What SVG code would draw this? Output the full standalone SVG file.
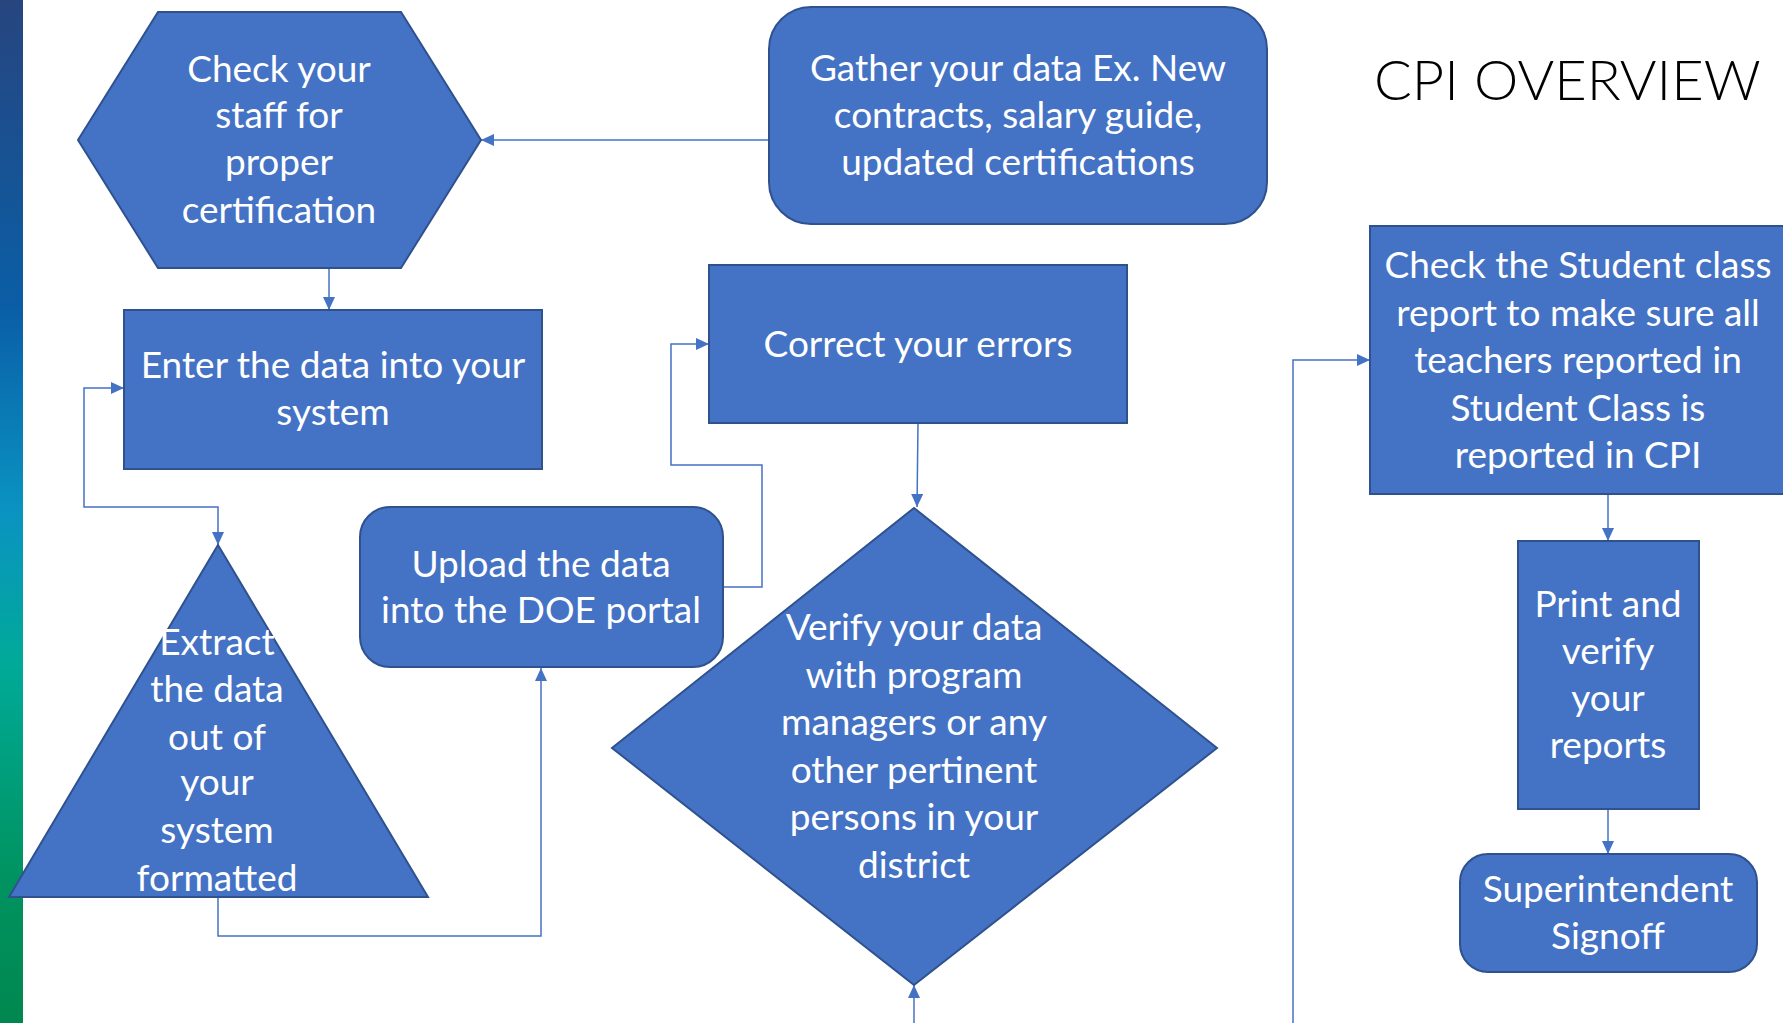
<svg xmlns="http://www.w3.org/2000/svg" width="1783" height="1023" viewBox="0 0 1783 1023">
<style>
.shape{fill:#4472C4;stroke:#2F528F;stroke-width:2}
.t{fill:#ffffff;font-family:Lato,"Noto Sans",sans-serif;font-size:37px;text-anchor:middle}
.c{fill:none;stroke:#4472C4;stroke-width:1.5}
.title{fill:#000000;font-family:Lato,"Noto Sans",sans-serif;font-weight:300;font-size:56px}
</style>
<defs>
<linearGradient id="bar" x1="0" y1="0" x2="0" y2="1">
<stop offset="0" stop-color="#27457f"/>
<stop offset="0.3" stop-color="#0a5ea6"/>
<stop offset="0.5" stop-color="#0a93c2"/>
<stop offset="0.65" stop-color="#00aa98"/>
<stop offset="0.85" stop-color="#009462"/>
<stop offset="1" stop-color="#00874f"/>
</linearGradient>
<marker id="arr" viewBox="0 0 13 12" refX="13" refY="6" markerWidth="13" markerHeight="12" markerUnits="userSpaceOnUse" orient="auto-start-reverse">
<path d="M0,0 L13,6 L0,12 z" fill="#4472C4"/>
</marker>
</defs>
<rect x="0" y="0" width="1783" height="1023" fill="#ffffff"/>
<rect x="0" y="0" width="23" height="1023" fill="url(#bar)"/>
<text class="title" x="1374" y="100">CPI OVERVIEW</text>

<g id="connectors">
<path class="c" d="M769,140 L481,140" marker-end="url(#arr)"/>
<path class="c" d="M329,268 L329,310" marker-end="url(#arr)"/>
<path class="c" d="M218,545 L218,507 L84,507 L84,388 L124,388" marker-start="url(#arr)" marker-end="url(#arr)"/>
<path class="c" d="M218,897 L218,936 L541,936 L541,668" marker-end="url(#arr)"/>
<path class="c" d="M723,587 L762,587 L762,465 L671,465 L671,344 L709,344" marker-end="url(#arr)"/>
<path class="c" d="M918,423 L917,507" marker-end="url(#arr)"/>
<path class="c" d="M914,1023 L914,985" marker-end="url(#arr)"/>
<path class="c" d="M1293,1023 L1293,360 L1370,360" marker-end="url(#arr)"/>
<path class="c" d="M1608,494 L1608,541" marker-end="url(#arr)"/>
<path class="c" d="M1608,809 L1608,854" marker-end="url(#arr)"/>
</g>

<g id="check-staff">
<polygon class="shape" points="158,12 401,12 481,140 401,268 158,268 78,140"/>
<text class="t" x="279" y="82">Check your</text>
<text class="t" x="279" y="128">staff for</text>
<text class="t" x="279" y="175">proper</text>
<text class="t" x="279" y="223">certification</text>
</g>

<g id="gather">
<rect class="shape" x="769" y="7" width="498" height="217" rx="42" ry="42"/>
<text class="t" x="1018" y="81">Gather your data Ex. New</text>
<text class="t" x="1018" y="128">contracts, salary guide,</text>
<text class="t" x="1018" y="175">updated certifications</text>
</g>

<g id="enter">
<rect class="shape" x="124" y="310" width="418" height="159"/>
<text class="t" x="333" y="378">Enter the data into your</text>
<text class="t" x="333" y="425">system</text>
</g>

<g id="extract">
<polygon class="shape" points="218,545 428,897 9,897"/>
<text class="t" x="217" y="655">Extract</text>
<text class="t" x="217" y="702">the data</text>
<text class="t" x="217" y="750">out of</text>
<text class="t" x="217" y="795">your</text>
<text class="t" x="217" y="843">system</text>
<text class="t" x="217" y="891">formatted</text>
</g>

<g id="upload">
<rect class="shape" x="360" y="507" width="363" height="160" rx="30" ry="30"/>
<text class="t" x="541" y="577">Upload the data</text>
<text class="t" x="541" y="623">into the DOE portal</text>
</g>

<g id="correct">
<rect class="shape" x="709" y="265" width="418" height="158"/>
<text class="t" x="918" y="357">Correct your errors</text>
</g>

<g id="verify">
<polygon class="shape" points="914,508 1217,748 914,985 612,748"/>
<text class="t" x="914" y="640">Verify your data</text>
<text class="t" x="914" y="688">with program</text>
<text class="t" x="914" y="735">managers or any</text>
<text class="t" x="914" y="783">other pertinent</text>
<text class="t" x="914" y="830">persons in your</text>
<text class="t" x="914" y="878">district</text>
</g>

<g id="check-student">
<rect class="shape" x="1370" y="226" width="420" height="268"/>
<text class="t" x="1578" y="278">Check the Student class</text>
<text class="t" x="1578" y="326">report to make sure all</text>
<text class="t" x="1578" y="373">teachers reported in</text>
<text class="t" x="1578" y="421">Student Class is</text>
<text class="t" x="1578" y="468">reported in CPI</text>
</g>

<g id="print">
<rect class="shape" x="1518" y="541" width="181" height="268"/>
<text class="t" x="1608" y="617">Print and</text>
<text class="t" x="1608" y="664">verify</text>
<text class="t" x="1608" y="711">your</text>
<text class="t" x="1608" y="758">reports</text>
</g>

<g id="signoff">
<rect class="shape" x="1460" y="854" width="297" height="118" rx="28" ry="28"/>
<text class="t" x="1608" y="902">Superintendent</text>
<text class="t" x="1608" y="949">Signoff</text>
</g>
</svg>
